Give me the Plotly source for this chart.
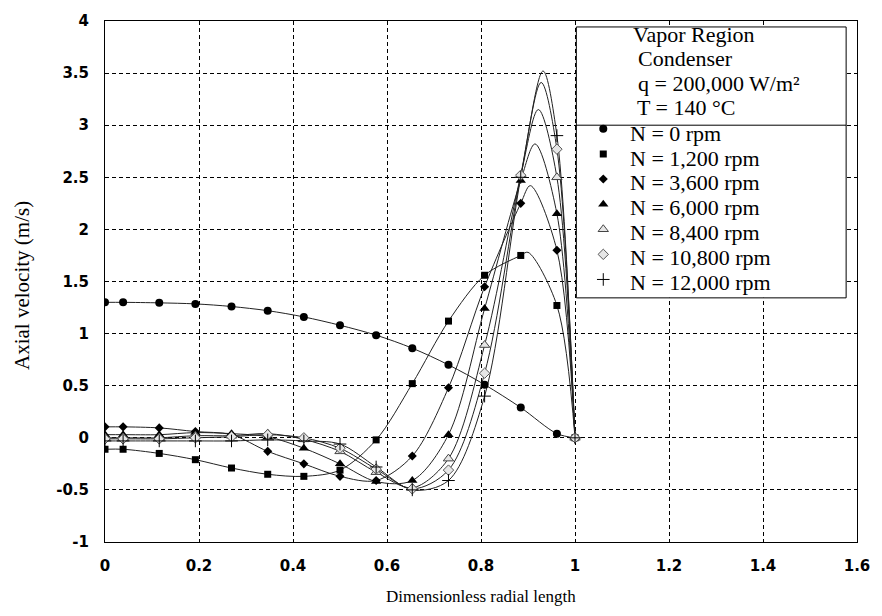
import plotly.graph_objects as go

# Dimensionless radial positions (same grid for every series)
x_r = [0.0, 0.0385, 0.1154, 0.1923, 0.2692, 0.3462, 0.4231, 0.5, 0.5769,
       0.6538, 0.7308, 0.8077, 0.8846, 0.9615, 1.0]

# Axial velocity (m/s) for each rotational speed
v_0 = [1.30, 1.30, 1.295, 1.285, 1.26, 1.22, 1.16, 1.08, 0.985, 0.86, 0.70, 0.51, 0.29, 0.04, 0.0]
v_1200 = [-0.11, -0.11, -0.15, -0.21, -0.29, -0.35, -0.37, -0.31, -0.02, 0.52, 1.12, 1.56, 1.75, 1.27, 0.0]
v_3600 = [0.105, 0.105, 0.095, 0.06, 0.03, -0.13, -0.25, -0.37, -0.41, -0.175, 0.48, 1.45, 2.25, 1.80, 0.0]
v_6000 = [0.03, 0.03, 0.03, 0.05, 0.04, 0.01, -0.10, -0.25, -0.42, -0.41, 0.03, 1.24, 2.47, 2.15, 0.0]
v_8400 = [0.0, 0.0, 0.0, 0.02, 0.02, 0.04, -0.015, -0.13, -0.33, -0.48, -0.20, 0.89, 2.52, 2.50, 0.0]
v_10800 = [-0.01, -0.01, -0.01, 0.0, 0.01, 0.03, 0.0, -0.10, -0.30, -0.49, -0.31, 0.62, 2.52, 2.77, 0.0]
v_12000 = [-0.03, -0.03, -0.03, -0.03, -0.03, -0.02, -0.03, -0.06, -0.28, -0.50, -0.41, 0.40, 2.50, 2.90, 0.0]

# Apex of each fitted curve (None = no extra apex)
peak_x = [None, 0.900, 0.905, 0.915, 0.922, 0.928, 0.932]
peak_y = [None, 1.78, 2.42, 2.82, 3.15, 3.41, 3.52]

names = ["N = 0 rpm", "N = 1,200 rpm", "N = 3,600 rpm", "N = 6,000 rpm",
         "N = 8,400 rpm", "N = 10,800 rpm", "N = 12,000 rpm"]
series = [v_0, v_1200, v_3600, v_6000, v_8400, v_10800, v_12000]

header_lines = ["Vapor Region", "Condenser", "q = 200,000 W/m\u00b2", "T = 140 \u00b0C"]

x_ticks = [0, 0.2, 0.4, 0.6, 0.8, 1, 1.2, 1.4, 1.6]
y_ticks = [-1, -0.5, 0, 0.5, 1, 1.5, 2, 2.5, 3, 3.5, 4]

# styles
marker_styles = [
    dict(symbol="circle", size=8, color="black"),
    dict(symbol="square", size=7, color="black"),
    dict(symbol="diamond", size=7, color="black"),
    dict(symbol="triangle-up", size=9, color="black"),
    dict(symbol="triangle-up", size=9, color="#e6e6e6", line=dict(color="#444", width=1)),
    dict(symbol="diamond", size=8, color="#e6e6e6", line=dict(color="#555", width=1)),
    dict(symbol="cross-thin-open", size=9, color="black", line=dict(color="black", width=1)),
]

fig = go.Figure()

# smooth curves
for vals, px_, py_ in zip(series, peak_x, peak_y):
    pts = list(zip(x_r, vals))
    if px_ is not None:
        pts.append((px_, py_))
    pts.sort()
    fig.add_trace(go.Scatter(
        x=[p[0] for p in pts], y=[p[1] for p in pts], mode="lines",
        line=dict(color="#222", width=1, shape="spline", smoothing=0.9),
        showlegend=False, hoverinfo="skip"))

# markers (legend supplies only the symbols; labels are drawn as annotations)
for vals, nm, ms in zip(series, names, marker_styles):
    fig.add_trace(go.Scatter(x=x_r, y=vals, mode="markers", name="", marker=ms,
                             hovertemplate=nm + "<br>%{x}, %{y}<extra></extra>"))

serif = "Liberation Serif, Times New Roman, serif"

L, R, T, B = 105, 16, 17, 74
W, H = 882, 616
pw, ph = W - L - R, H - T - B

def px(xp):
    return (xp - L) / pw

def py(yp):
    return (H - B - yp) / ph

shapes = [
    dict(type="rect", xref="paper", yref="paper", x0=px(582), x1=px(855), y0=py(296), y1=py(23),
         line=dict(color="black", width=1), fillcolor="white", layer="above"),
    dict(type="line", xref="paper", yref="paper", x0=px(582), x1=px(855), y0=py(122), y1=py(122),
         line=dict(color="black", width=1), layer="above"),
]

annotations = []
hdr_pos = [(637, 31), (642, 55), (642, 80), (641, 104)]
for txt, (ax, ay) in zip(header_lines, hdr_pos):
    annotations.append(dict(text=txt, x=px(ax), y=py(ay), xref="paper", yref="paper",
                            xanchor="left", yanchor="middle", showarrow=False,
                            font=dict(family=serif, size=22, color="black")))

# legend labels
row0, row_step = 130, 25.1
for i, nm in enumerate(names):
    annotations.append(dict(text=nm, x=px(634), y=py(row0 + row_step * i), xref="paper", yref="paper",
                            xanchor="left", yanchor="middle", showarrow=False,
                            font=dict(family=serif, size=22, color="black")))

annotations.append(dict(text="Dimensionless radial length", x=0.5, y=py(597), xref="paper", yref="paper",
                        xanchor="center", yanchor="middle", showarrow=False,
                        font=dict(family=serif, size=17, color="black")))
annotations.append(dict(text="Axial velocity (m/s)", x=px(21), y=py(283), xref="paper", yref="paper",
                        xanchor="center", yanchor="middle", showarrow=False, textangle=-90,
                        font=dict(family=serif, size=21, color="black")))

grid = dict(showgrid=True, gridcolor="black", gridwidth=1, griddash="4px,3px",
            zeroline=False, showline=True, linecolor="black", linewidth=1, mirror=True,
            ticks="outside", tickcolor="rgba(0,0,0,0)",
            tickfont=dict(family="DejaVu Sans", size=15, color="black", weight="bold"))

fig.update_layout(
    width=W, height=H, margin=dict(l=L, r=R, t=T, b=B),
    paper_bgcolor="white", plot_bgcolor="white",
    xaxis=dict(range=[0, 1.6], tickvals=x_ticks, ticktext=[f"{v:g}" for v in x_ticks], ticklen=10, **grid),
    yaxis=dict(range=[-1, 4], tickvals=y_ticks, ticktext=[f"{v:g}" for v in y_ticks], ticklen=12, **grid),
    shapes=shapes, annotations=annotations,
    legend=dict(x=px(589), y=py(108), xanchor="left", yanchor="top",
                bgcolor="rgba(0,0,0,0)", borderwidth=0,
                font=dict(family=serif, size=17, color="black"), tracegroupgap=0),
    showlegend=True,
)

fig.write_html("out.html")
